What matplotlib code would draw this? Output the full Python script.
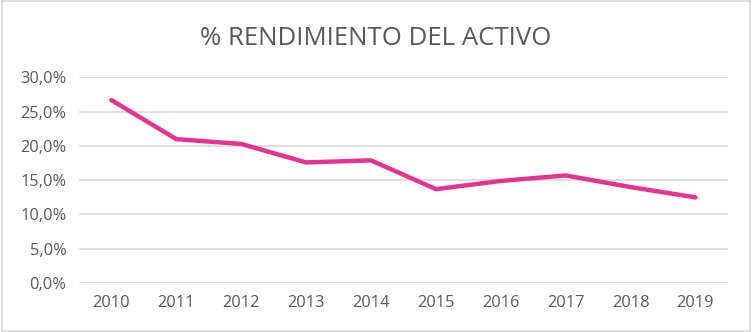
import matplotlib
matplotlib.use("Agg")
import matplotlib.pyplot as plt
from matplotlib.ticker import FuncFormatter
from matplotlib.patches import Rectangle

# Data (percent)
years = ["2010", "2011", "2012", "2013", "2014", "2015", "2016", "2017", "2018", "2019"]
rendimiento = [26.7, 21.0, 20.3, 17.6, 17.9, 13.7, 14.9, 15.7, 14.0, 12.5]
y_ticks = [0, 5, 10, 15, 20, 25, 30]

plt.rcParams['font.family'] = ['Open Sans', 'DejaVu Sans']

fig = plt.figure(figsize=(7.52, 3.32), dpi=100)
ax = fig.add_axes([0.105, 0.1476, 0.863, 0.619])

x = range(len(years))
ax.plot(x, rendimiento, color='#E4348F', linewidth=3.2, solid_capstyle='round', solid_joinstyle='round')

ax.set_xlim(-0.5, len(years) - 0.5)
ax.set_ylim(0, 30)
ax.set_xticks(list(x))
ax.set_xticklabels(years)
ax.set_yticks(y_ticks)
ax.yaxis.set_major_formatter(FuncFormatter(lambda v, p: f"{v:.1f}%".replace('.', ',')))
ax.grid(axis='y', color='#D9D9D9', linewidth=1.2)
ax.set_axisbelow(True)
for s in ax.spines.values():
    s.set_visible(False)
ax.tick_params(length=0, labelsize=11.8, colors='#595959', pad=9)

fig.text(0.5, 0.885, "% RENDIMIENTO DEL ACTIVO", ha='center', va='center',
         fontsize=18.5, color='#595959')

# light chart border
fig.patches.append(Rectangle((0.002, 0.003), 0.995, 0.993, transform=fig.transFigure,
                             fill=False, edgecolor='#D9D9D9', linewidth=1.2))

fig.savefig("out.png", dpi=100)
